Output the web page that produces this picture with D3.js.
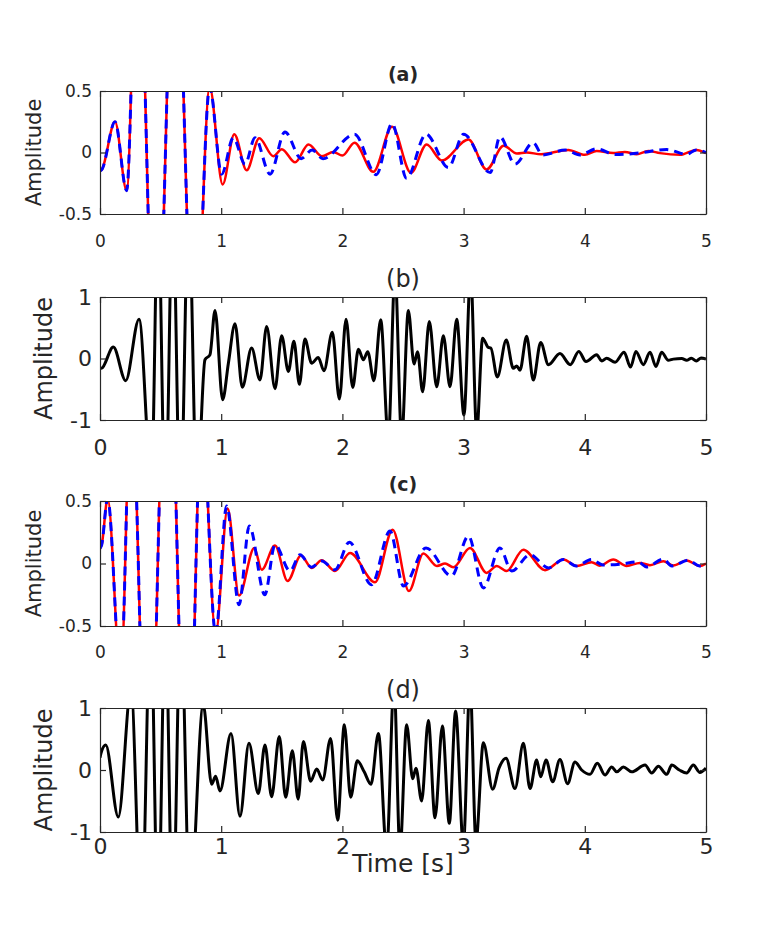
<!DOCTYPE html>
<html>
<head>
<meta charset="utf-8">
<script src="https://cdn.jsdelivr.net/npm/d3@7"></script>
<style>
body { margin:0; background:#fff; }
text { font-family:"DejaVu Sans", sans-serif; fill:#262626; }
</style>
</head>
<body>
<script>
var xTicks = [0,1,2,3,4,5];
var ySmallTicks = [-0.5,0,0.5];
var ySmallLabels = ["-0.5","0","0.5"];
var yBigTicks = [-1,0,1];
var yBigLabels = ["-1","0","1"];
var titles = ["(a)","(b)","(c)","(d)"];

// panel (a): shared start, then red (solid) and blue (dashed)
var aStart = [[0,-0.15],[0.014,-0.14],[0.124,0.25],[0.22,-0.31],[0.31,2.0],[0.46,-2.0],[0.62,2.0],[0.78,-1.8],[0.905,0.53]];
var aRed = [[1.012,-0.26],[1.108,0.149],[1.21,-0.144],[1.314,0.116],[1.43,-0.03],[1.50,0.027],[1.61,-0.08],[1.72,0.065],[1.83,-0.03],[1.925,0.005],[2.0,-0.025],[2.10,0.08],[2.255,-0.157],[2.41,0.21],[2.566,-0.165],[2.695,0.065],[2.82,-0.065],[3.04,0.105],[3.19,-0.138],[3.33,0.055],[3.44,-0.008],[3.52,0.0],[3.64,-0.014],[3.864,0.021],[4.0,-0.019],[4.098,0.013],[4.235,-0.005],[4.33,0.005],[4.428,-0.014],[4.524,0.013],[4.62,-0.005],[4.785,-0.019],[4.92,0.021],[5.0,-0.005]];
var aBlue = [[1.004,-0.176],[1.10,0.12],[1.197,-0.095],[1.279,0.12],[1.403,-0.176],[1.526,0.167],[1.66,-0.05],[1.75,0.02],[1.84,-0.05],[2.10,0.149],[2.28,-0.18],[2.41,0.236],[2.53,-0.21],[2.69,0.149],[2.875,-0.122],[3.0,0.149],[3.22,-0.163],[3.30,0.127],[3.424,-0.095],[3.575,0.08],[3.65,-0.02],[3.84,0.02],[3.96,-0.02],[4.098,0.03],[4.25,-0.017],[4.44,-0.005],[4.675,0.024],[4.84,-0.015],[4.92,0.021],[5.0,0.0]];

// panel (b)
var bData = [[0,-0.16],[0.014,-0.157],[0.11,0.186],[0.212,-0.36],[0.322,0.64],[0.425,-2.0],[0.479,2.5],[0.539,-2.5],[0.600,2.5],[0.663,-2.5],[0.731,2.5],[0.80,-2.2],[0.866,-0.02],[0.907,0.06],[0.949,0.78],[1.012,-0.67],[1.059,-0.08],[1.114,0.566],[1.174,-0.467],[1.251,0.17],[1.32,-0.35],[1.375,0.52],[1.444,-0.49],[1.499,0.37],[1.554,-0.21],[1.60,0.28],[1.645,-0.42],[1.691,0.316],[1.746,-0.076],[1.801,0.016],[1.848,-0.2],[1.917,0.425],[1.975,-0.66],[2.03,0.64],[2.085,-0.47],[2.132,0.15],[2.173,-0.02],[2.209,0.11],[2.26,-0.36],[2.316,0.63],[2.379,-1.3],[2.434,1.4],[2.489,-1.3],[2.544,0.78],[2.591,-0.09],[2.62,0.11],[2.662,-0.54],[2.717,0.60],[2.778,-0.46],[2.833,0.37],[2.888,-0.46],[2.943,0.64],[3.003,-0.92],[3.058,1.4],[3.108,-1.2],[3.157,0.33],[3.204,0.18],[3.225,0.17],[3.278,-0.30],[3.352,0.3],[3.41,-0.16],[3.438,-0.12],[3.465,-0.19],[3.52,0.36],[3.575,-0.35],[3.636,0.26],[3.70,-0.1],[3.795,0.08],[3.88,-0.1],[3.95,0.115],[4.01,-0.05],[4.098,0.06],[4.14,-0.04],[4.18,0.006],[4.25,-0.06],[4.324,0.1],[4.378,-0.14],[4.422,0.115],[4.483,-0.1],[4.538,0.1],[4.587,-0.13],[4.634,0.1],[4.689,-0.03],[4.73,-0.01],[4.80,0.0],[4.84,-0.03],[4.88,0.006],[4.92,-0.04],[4.96,0.01],[5.0,-0.01]];

// panel (c): shared start, then red and blue
var cStart = [[0,0.12],[0.014,0.15],[0.063,0.52],[0.171,-0.9],[0.257,1.4],[0.396,-2.2],[0.558,2.2],[0.72,-2.2],[0.84,1.2],[0.954,-0.56]];
var cRed = [[1.053,0.44],[1.147,-0.256],[1.273,0.125],[1.334,-0.05],[1.444,0.144],[1.548,-0.14],[1.658,0.064],[1.746,-0.035],[1.829,0.026],[1.939,-0.06],[2.063,0.085],[2.269,-0.15],[2.415,0.27],[2.549,-0.22],[2.668,0.08],[2.78,-0.02],[2.847,0.0],[2.915,-0.03],[3.053,0.125],[3.19,-0.075],[3.273,-0.02],[3.355,-0.06],[3.493,0.11],[3.672,-0.053],[3.823,0.032],[3.933,-0.02],[4.056,0.01],[4.125,-0.017],[4.235,0.032],[4.345,-0.02],[4.455,0.005],[4.538,-0.013],[4.648,0.018],[4.73,-0.016],[4.84,0.024],[4.95,-0.02],[5.0,0.0]];
var cBlue = [[1.045,0.46],[1.147,-0.33],[1.232,0.30],[1.36,-0.25],[1.444,0.15],[1.568,-0.06],[1.65,0.07],[1.746,-0.03],[1.829,0.02],[1.939,-0.05],[2.057,0.17],[2.24,-0.17],[2.393,0.26],[2.503,-0.18],[2.69,0.125],[2.9,-0.1],[3.04,0.22],[3.163,-0.195],[3.3,0.125],[3.396,-0.06],[3.548,0.07],[3.70,-0.035],[3.823,0.032],[3.93,-0.02],[4.056,0.032],[4.15,-0.012],[4.30,-0.004],[4.44,0.013],[4.51,-0.027],[4.648,0.036],[4.717,-0.02],[4.854,0.026],[4.95,-0.02],[5.0,-0.005]];

// panel (d)
var dData = [[0,0.2],[0.008,0.27],[0.047,0.405],[0.151,-0.76],[0.256,1.3],[0.342,-2.5],[0.418,2.5],[0.479,-2.5],[0.539,2.5],[0.60,-2.5],[0.666,2.5],[0.742,-2.2],[0.852,1.05],[0.921,-0.23],[0.954,-0.1],[0.99,-0.34],[1.081,0.59],[1.155,-0.745],[1.229,0.43],[1.306,-0.38],[1.361,0.405],[1.416,-0.43],[1.479,0.54],[1.532,-0.44],[1.587,0.31],[1.635,-0.47],[1.678,0.46],[1.738,-0.18],[1.788,0.016],[1.837,-0.16],[1.903,0.51],[1.961,-0.81],[2.016,0.73],[2.068,-0.44],[2.123,0.15],[2.18,-0.03],[2.236,-0.23],[2.297,0.59],[2.365,-1.3],[2.426,1.4],[2.475,-1.3],[2.53,0.73],[2.58,-0.14],[2.607,0.03],[2.654,-0.5],[2.709,0.8],[2.764,-0.77],[2.825,0.71],[2.882,-0.86],[2.934,0.95],[2.998,-1.2],[3.053,1.4],[3.102,-1.15],[3.163,0.44],[3.24,-0.31],[3.292,0.03],[3.35,0.19],[3.424,-0.30],[3.493,0.43],[3.548,-0.30],[3.603,0.16],[3.636,-0.11],[3.68,0.16],[3.735,-0.19],[3.795,0.17],[3.858,-0.22],[3.919,0.13],[3.974,0.0],[4.043,-0.07],[4.103,0.11],[4.167,-0.08],[4.222,0.05],[4.263,-0.03],[4.318,0.05],[4.387,-0.03],[4.497,0.08],[4.552,-0.05],[4.607,0.06],[4.676,-0.07],[4.717,0.08],[4.78,0.0],[4.84,-0.05],[4.895,0.08],[4.95,-0.04],[5.0,0.03]];

var width = 781, height = 938;
var left = 100, right = 706;

var svg = d3.select("body").append("svg").attr("width",width).attr("height",height);

var panels = [
  {top:91, bottom:214, yt:ySmallTicks, yl:ySmallLabels, big:false, xpad:21,
   series:[{d:aStart.concat(aRed), c:"#ff0000", w:2.5, dash:null},
           {d:aStart.concat(aBlue), c:"#0000ff", w:3, dash:"9,6"}]},
  {top:297, bottom:420, yt:yBigTicks, yl:yBigLabels, big:true, xpad:19,
   series:[{d:bData, c:"#000000", w:3, dash:null}]},
  {top:501, bottom:626, yt:ySmallTicks, yl:ySmallLabels, big:false, xpad:20,
   series:[{d:cStart.concat(cRed), c:"#ff0000", w:2.5, dash:null},
           {d:cStart.concat(cBlue), c:"#0000ff", w:3, dash:"9,6"}]},
  {top:708, bottom:832, yt:yBigTicks, yl:yBigLabels, big:true, xpad:6,
   series:[{d:dData, c:"#000000", w:3, dash:null}]}
];

var x = d3.scaleLinear().domain([0,5]).range([left,right]);

panels.forEach(function(p,i){
  var y = d3.scaleLinear().domain([p.yt[0],p.yt[2]]).range([p.bottom,p.top]);
  var g = svg.append("g");
  var tickFont = p.big ? 22 : 17;
  var labFont = p.big ? 24 : 21;

  g.append("clipPath").attr("id","clip"+i)
    .append("rect").attr("x",left).attr("y",p.top).attr("width",right-left).attr("height",p.bottom-p.top);

  var line = d3.line().x(function(d){ return x(d[0]); }).y(function(d){ return y(d[1]); }).curve(d3.curveMonotoneX);

  p.series.forEach(function(s){
    g.append("path").datum(s.d)
      .attr("clip-path","url(#clip"+i+")")
      .attr("d",line)
      .attr("fill","none")
      .attr("stroke",s.c)
      .attr("stroke-width",s.w)
      .attr("stroke-linejoin","round")
      .attr("stroke-dasharray",s.dash);
  });

  // axes, ticks inside on all four sides
  var xb = d3.axisBottom(x).tickValues(xTicks).tickSizeInner(-6).tickSizeOuter(0).tickPadding(p.xpad).tickFormat(d3.format("d"));
  var xt = d3.axisTop(x).tickValues(xTicks).tickSizeInner(-6).tickSizeOuter(0).tickFormat("");
  var yl = d3.axisLeft(y).tickValues(p.yt).tickSizeInner(-6).tickSizeOuter(0).tickPadding(8).tickFormat(function(d,j){ return p.yl[j]; });
  var yr = d3.axisRight(y).tickValues(p.yt).tickSizeInner(-6).tickSizeOuter(0).tickFormat("");

  [g.append("g").attr("transform","translate(0,"+p.bottom+")").call(xb),
   g.append("g").attr("transform","translate(0,"+p.top+")").call(xt),
   g.append("g").attr("transform","translate("+left+",0)").call(yl),
   g.append("g").attr("transform","translate("+right+",0)").call(yr)].forEach(function(a){
     a.select(".domain").attr("stroke","#262626").attr("stroke-width",1.2);
     a.selectAll(".tick line").attr("stroke","#262626").attr("stroke-width",1.2);
     a.selectAll(".tick text").attr("font-size",tickFont).attr("fill","#262626").style("font-family","DejaVu Sans");
   });

  g.append("text")
    .attr("x",(left+right)/2).attr("y",p.top-10)
    .attr("text-anchor","middle")
    .attr("font-size",p.big ? 24 : 19)
    .attr("font-weight",p.big ? "normal" : "bold")
    .attr("fill","#000")
    .text(titles[i]);

  g.append("text")
    .attr("transform","translate("+(p.big ? 52 : 41)+","+((p.top+p.bottom)/2)+") rotate(-90)")
    .attr("text-anchor","middle")
    .attr("font-size",labFont)
    .text("Amplitude");
});

svg.append("text")
  .attr("x",(left+right)/2).attr("y",872)
  .attr("text-anchor","middle")
  .attr("font-size",25)
  .text("Time [s]");
</script>
</body>
</html>
